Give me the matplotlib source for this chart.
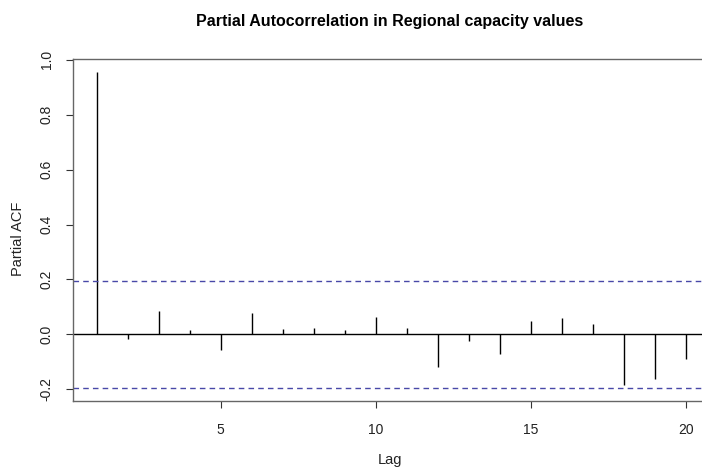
import numpy as np
import matplotlib
matplotlib.use("Agg")
from matplotlib import pyplot as plt

plt.rcParams['font.family'] = ['Liberation Sans', 'DejaVu Sans']

# partial autocorrelation values
lags = list(range(1, 21))
pacf = [0.957, -0.015, 0.085, 0.016, -0.057, 0.079, 0.018, 0.025, 0.017, 0.065,
        0.025, -0.119, -0.025, -0.072, 0.047, 0.059, 0.039, -0.183, -0.162, -0.091]
conf = 0.196
x_ticks = [5, 10, 15, 20]
y_ticks = [-0.2, 0.0, 0.2, 0.4, 0.6, 0.8, 1.0]

fig = plt.figure(figsize=(7.02, 4.68), dpi=100)
ax = fig.add_axes([0.1041, 0.1432, 0.9067, 0.7307])

ax.vlines(lags, 0, pacf, color='black', linewidth=1)
ax.axhline(0, color='black', linewidth=1)
ax.axhline(conf, color='#4848a8', linewidth=1, linestyle=(0, (4, 3)))
ax.axhline(-conf, color='#4848a8', linewidth=1, linestyle=(0, (4, 3)))

ax.set_xlim(0.24, 20.76)
ax.set_ylim(-0.2425, 1.003)
ax.set_xticks(x_ticks)
ax.set_yticks(y_ticks)
ax.set_yticklabels(['%.1f' % v for v in y_ticks], rotation=90, va='center')
ax.tick_params(length=5, width=0.8, color='#333333', labelsize=10, pad=9,
               labelcolor='#222222')
ax.tick_params(axis='x', pad=10.5)
for s in ax.spines.values():
    s.set_color('#666666')
    s.set_linewidth(1)

fig.text(0.5556, 0.955, 'Partial Autocorrelation in Regional capacity values',
         ha='center', va='center', fontsize=11.5, fontweight='bold')
fig.text(0.5556, 0.017, 'Lag', ha='center', va='center', fontsize=10.5,
         color='#222222')
fig.text(0.026, 0.49, 'Partial ACF', ha='center', va='center', rotation=90,
         fontsize=10.5, color='#222222')

fig.savefig('out.png', dpi=100)
